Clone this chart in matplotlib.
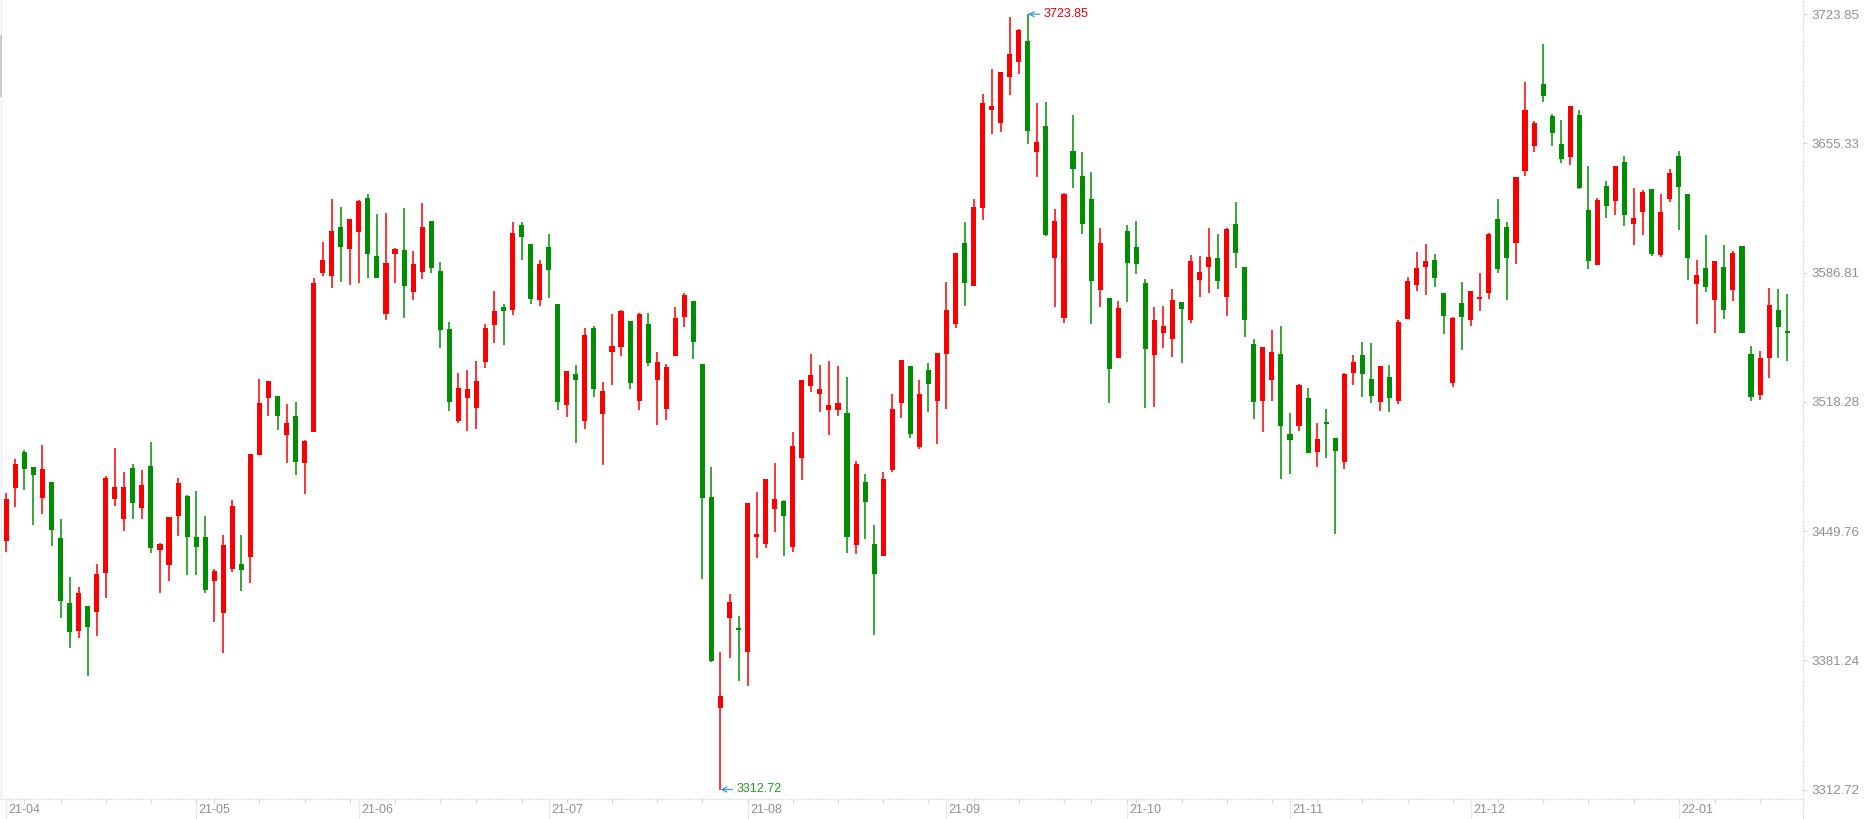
import matplotlib
matplotlib.use('Agg')
import matplotlib.pyplot as plt
import matplotlib.transforms as mtrans
from matplotlib.lines import Line2D
import numpy as np

plt.rcParams['font.family'] = ['Liberation Sans', 'DejaVu Sans']

# daily candles, 2021-04-01 .. 2022-01-20
opens = [3444.7, 3472.8, 3491.7, 3483.7, 3467.5, 3475.8, 3446.1, 3411.6, 3396.9, 3410.0,
         3407.0, 3427.7, 3467.0, 3456.3, 3483.2, 3462.2, 3484.3, 3439.9, 3431.9, 3457.9,
         3468.4, 3446.6, 3446.6, 3423.5, 3406.5, 3429.8, 3432.3, 3436.2, 3490.3, 3520.5,
         3521.4, 3500.9, 3510.8, 3486.0, 3502.5, 3586.8, 3585.2, 3611.0, 3599.5, 3608.5,
         3626.4, 3595.6, 3565.0, 3596.9, 3598.8, 3576.7, 3587.3, 3614.2, 3587.7, 3556.9,
         3508.3, 3520.5, 3515.2, 3539.6, 3559.2, 3568.6, 3567.1, 3612.1, 3602.0, 3572.5,
         3600.4, 3570.2, 3516.8, 3533.0, 3508.3, 3557.4, 3512.0, 3544.9, 3547.5, 3561.2,
         3518.9, 3559.6, 3530.0, 3514.7, 3542.8, 3563.5, 3571.8, 3538.3, 3467.8, 3356.1,
         3403.8, 3398.5, 3385.8, 3446.8, 3443.1, 3461.6, 3465.7, 3441.5, 3488.7, 3526.9,
         3522.6, 3514.1, 3514.1, 3512.4, 3442.5, 3475.8, 3442.9, 3436.7, 3482.1, 3517.9,
         3537.3, 3494.5, 3535.2, 3518.9, 3543.8, 3559.7, 3602.5, 3579.9, 3621.3, 3673.2,
         3666.3, 3690.7, 3698.7, 3709.6, 3650.9, 3664.6, 3594.7, 3562.9, 3651.3, 3638.0,
         3625.9, 3577.8, 3573.4, 3541.7, 3608.9, 3600.4, 3581.3, 3543.3, 3555.0, 3551.8,
         3571.2, 3561.9, 3583.1, 3590.0, 3594.6, 3574.1, 3612.6, 3589.8, 3549.0, 3518.9,
         3530.0, 3543.7, 3501.2, 3505.6, 3520.3, 3491.9, 3507.1, 3499.1, 3486.6, 3533.8,
         3543.1, 3530.4, 3518.4, 3531.5, 3518.9, 3562.4, 3580.4, 3590.0, 3593.5, 3576.0,
         3528.5, 3570.7, 3561.9, 3573.0, 3576.2, 3615.2, 3611.0, 3602.7, 3640.9, 3654.1,
         3686.8, 3669.9, 3655.0, 3648.3, 3670.4, 3620.0, 3591.0, 3632.7, 3624.8, 3645.3,
         3612.6, 3619.0, 3630.9, 3596.0, 3625.6, 3648.9, 3628.4, 3580.7, 3589.0, 3572.4,
         3589.6, 3577.6, 3600.7, 3543.8, 3521.9, 3541.6, 3567.1, 3556.0]
highs = [3470.1, 3488.0, 3492.8, 3483.7, 3495.4, 3475.8, 3456.2, 3425.4, 3420.1, 3410.0,
         3432.3, 3478.9, 3493.8, 3481.1, 3485.3, 3482.1, 3497.0, 3443.4, 3457.2, 3477.9,
         3468.9, 3471.0, 3457.7, 3429.6, 3447.7, 3466.2, 3447.7, 3490.6, 3530.4, 3529.3,
         3521.4, 3517.1, 3518.2, 3497.9, 3583.9, 3603.0, 3625.9, 3621.6, 3615.2, 3625.3,
         3628.5, 3617.9, 3618.4, 3599.9, 3621.1, 3598.3, 3623.7, 3614.2, 3592.4, 3560.6,
         3533.7, 3535.2, 3539.9, 3559.6, 3577.1, 3570.2, 3613.6, 3613.6, 3602.0, 3593.5,
         3607.3, 3570.2, 3534.6, 3537.8, 3557.4, 3558.5, 3528.8, 3564.9, 3567.0, 3561.2,
         3565.4, 3565.4, 3544.7, 3538.3, 3568.6, 3576.0, 3571.8, 3538.3, 3483.7, 3385.8,
         3416.6, 3404.9, 3464.6, 3470.6, 3477.4, 3486.0, 3466.2, 3502.3, 3529.9, 3543.7,
         3537.8, 3539.9, 3537.3, 3531.5, 3486.9, 3480.0, 3453.0, 3481.1, 3522.4, 3540.5,
         3537.3, 3529.9, 3538.9, 3544.2, 3581.8, 3597.2, 3613.6, 3625.9, 3681.5, 3694.8,
         3693.2, 3722.4, 3716.0, 3723.85, 3676.8, 3677.3, 3620.6, 3629.0, 3670.4, 3650.8,
         3640.2, 3610.5, 3573.4, 3571.8, 3612.1, 3614.2, 3583.4, 3568.6, 3569.1, 3578.1,
         3571.2, 3596.2, 3595.6, 3610.5, 3607.3, 3610.5, 3624.3, 3589.8, 3551.6, 3547.4,
         3556.4, 3558.5, 3512.4, 3527.7, 3525.6, 3507.1, 3514.5, 3499.1, 3533.6, 3543.1,
         3550.0, 3549.5, 3537.3, 3537.8, 3561.7, 3584.5, 3597.7, 3602.0, 3596.7, 3576.0,
         3563.3, 3581.8, 3577.1, 3586.6, 3607.8, 3625.8, 3613.6, 3637.5, 3687.9, 3667.2,
         3708.0, 3670.9, 3667.7, 3675.2, 3673.0, 3643.3, 3626.4, 3635.4, 3643.2, 3648.4,
         3631.7, 3630.4, 3630.9, 3628.4, 3642.0, 3651.2, 3628.4, 3593.7, 3606.5, 3593.2,
         3601.2, 3598.2, 3600.7, 3547.7, 3545.5, 3578.5, 3577.9, 3575.4]
lows = [3438.8, 3462.7, 3471.7, 3453.2, 3459.0, 3442.0, 3403.8, 3387.9, 3393.2, 3373.1,
        3394.3, 3414.4, 3463.2, 3450.0, 3456.3, 3456.3, 3438.3, 3417.1, 3423.5, 3447.3,
        3426.6, 3426.6, 3416.7, 3401.7, 3384.9, 3428.2, 3418.2, 3422.4, 3490.3, 3510.9,
        3503.5, 3486.0, 3479.7, 3469.6, 3502.5, 3585.2, 3578.8, 3582.0, 3580.4, 3581.5,
        3584.1, 3584.1, 3561.9, 3581.5, 3562.9, 3572.5, 3583.6, 3586.8, 3547.0, 3513.6,
        3507.2, 3503.0, 3504.1, 3536.4, 3549.7, 3548.6, 3564.5, 3593.5, 3570.3, 3569.3,
        3573.5, 3514.1, 3510.4, 3496.6, 3504.1, 3521.0, 3485.0, 3527.4, 3542.8, 3525.3,
        3514.1, 3537.5, 3506.2, 3508.8, 3542.8, 3558.2, 3541.2, 3424.5, 3380.5, 3312.72,
        3382.6, 3370.4, 3367.8, 3435.6, 3441.0, 3449.4, 3436.7, 3438.8, 3477.0, 3523.7,
        3513.1, 3500.9, 3511.0, 3438.3, 3437.8, 3445.7, 3394.8, 3436.7, 3481.1, 3509.9,
        3499.3, 3493.5, 3513.1, 3496.1, 3514.7, 3557.6, 3569.3, 3579.9, 3614.9, 3660.5,
        3661.6, 3681.2, 3692.3, 3655.2, 3637.7, 3606.4, 3568.8, 3560.3, 3631.9, 3607.5,
        3559.7, 3568.8, 3517.8, 3541.7, 3571.4, 3586.3, 3515.2, 3515.7, 3547.0, 3542.2,
        3539.1, 3560.3, 3574.1, 3576.2, 3578.3, 3564.0, 3589.4, 3552.8, 3509.4, 3502.5,
        3518.9, 3477.5, 3480.2, 3503.0, 3491.3, 3483.9, 3488.7, 3448.4, 3482.8, 3527.4,
        3521.0, 3517.8, 3513.6, 3513.1, 3517.3, 3562.4, 3577.2, 3575.1, 3579.4, 3554.4,
        3526.3, 3545.9, 3558.7, 3566.6, 3573.0, 3586.8, 3572.5, 3591.6, 3638.2, 3650.9,
        3677.5, 3654.1, 3645.1, 3644.1, 3631.3, 3588.9, 3591.0, 3615.9, 3617.3, 3611.5,
        3601.5, 3606.8, 3595.7, 3595.1, 3624.3, 3609.6, 3582.9, 3559.6, 3576.5, 3554.6,
        3562.4, 3571.8, 3554.6, 3518.5, 3519.1, 3530.8, 3541.6, 3539.9]
closes = [3466.8, 3485.2, 3482.8, 3479.7, 3482.7, 3450.5, 3412.9, 3396.4, 3416.9, 3399.1,
          3427.0, 3477.9, 3473.1, 3473.1, 3464.8, 3474.2, 3441.0, 3442.9, 3457.2, 3475.2,
          3446.8, 3441.5, 3418.7, 3428.6, 3442.4, 3463.0, 3429.3, 3490.6, 3517.7, 3529.3,
          3510.9, 3507.1, 3486.6, 3497.5, 3581.3, 3593.5, 3608.9, 3600.6, 3615.2, 3624.8,
          3596.9, 3584.1, 3591.9, 3599.3, 3579.9, 3591.4, 3611.0, 3589.4, 3556.5, 3518.4,
          3525.6, 3525.1, 3529.3, 3557.4, 3566.5, 3566.6, 3607.8, 3605.9, 3573.0, 3591.4,
          3588.4, 3518.4, 3534.6, 3530.0, 3553.7, 3525.3, 3524.0, 3547.9, 3566.5, 3528.5,
          3564.9, 3539.1, 3539.4, 3536.8, 3562.7, 3574.9, 3550.2, 3467.5, 3381.0, 3362.3,
          3412.1, 3397.5, 3464.6, 3448.2, 3477.4, 3466.8, 3457.9, 3495.0, 3529.9, 3532.5,
          3525.1, 3516.6, 3517.7, 3446.8, 3485.3, 3465.4, 3427.2, 3477.4, 3514.5, 3540.5,
          3501.4, 3522.4, 3527.9, 3544.2, 3567.0, 3597.2, 3581.5, 3621.6, 3676.8, 3675.2,
          3693.2, 3702.7, 3715.5, 3662.1, 3656.1, 3607.0, 3614.2, 3628.5, 3641.9, 3612.8,
          3582.5, 3602.5, 3535.9, 3568.0, 3592.1, 3591.6, 3546.5, 3561.7, 3558.5, 3572.3,
          3567.7, 3593.0, 3587.1, 3595.1, 3582.5, 3610.0, 3597.4, 3561.9, 3518.4, 3547.4,
          3544.7, 3505.6, 3498.2, 3527.2, 3491.3, 3498.6, 3506.7, 3492.4, 3533.0, 3539.4,
          3533.2, 3521.6, 3537.3, 3520.5, 3560.6, 3582.4, 3589.3, 3593.0, 3584.1, 3564.0,
          3562.9, 3563.5, 3577.1, 3574.0, 3607.3, 3588.9, 3594.7, 3637.5, 3673.0, 3666.1,
          3680.6, 3661.0, 3647.2, 3675.2, 3631.9, 3593.1, 3625.3, 3622.3, 3643.2, 3617.3,
          3615.6, 3629.8, 3596.5, 3618.7, 3639.5, 3632.0, 3594.6, 3585.7, 3579.3, 3593.2,
          3566.8, 3597.1, 3554.6, 3520.8, 3541.6, 3569.9, 3557.9, 3554.9]

# x axis: candle index of each month label, first trading day of each week
month_labels = ['21-04', '21-05', '21-06', '21-07', '21-08', '21-09',
                '21-10', '21-11', '21-12', '22-01']
month_starts = [0, 21, 39, 60, 82, 104, 124, 142, 162, 185]
week_starts = [2, 6, 11, 16, 21, 23, 28, 33, 38, 43, 48, 52, 57, 62, 67, 72, 77,
               82, 87, 92, 97, 102, 107, 112, 117, 120, 124, 125, 130, 135, 140,
               145, 150, 155, 160, 165, 170, 175, 180, 185, 189, 194]

y_ticks = [3312.72, 3381.24, 3449.76, 3518.28, 3586.81, 3655.33, 3723.85]

UP = '#fa0000'
DOWN = '#008f00'
GRID = '#d4d4d4'
TXT = '#8f8f8f'

W, H = 1876, 819
fig = plt.figure(figsize=(W / 100, H / 100), dpi=100)
ax_right = 1803
ax_bottom = 799
ax = fig.add_axes([0, 1 - ax_bottom / H, ax_right / W, ax_bottom / H])

step = 9.04
x0 = 6.3
ax.set_xlim(-x0 / step, (ax_right - x0) / step)
px = 411.13 / (789.5 - 14.2)
ax.set_ylim(3723.85 - (ax_bottom - 14.2) * px, 3723.85 + 14.2 * px)

o = np.array(opens)
h = np.array(highs)
l = np.array(lows)
c = np.array(closes)
xs = np.arange(len(o))
cols = [UP if cc >= oo else DOWN for oo, cc in zip(o, c)]

ax.vlines(xs, l, h, colors=cols, linewidth=1.1)
body_lo = np.minimum(o, c)
body_h = np.maximum(np.abs(c - o), 1.0)
ax.bar(xs, body_h, bottom=body_lo, width=0.56, color=cols, linewidth=0)

# axes styling
for s in ax.spines.values():
    s.set_visible(False)
ax.set_facecolor('white')

ax.yaxis.tick_right()
ax.set_yticks(y_ticks)
ax.set_yticklabels(['%.2f' % v for v in y_ticks])
ax.tick_params(axis='y', length=3, width=0.8, color=GRID, labelcolor=TXT,
               labelsize=9.5, pad=3)

ax.set_xticks([])
ax.set_xticks(week_starts, minor=True)
ax.tick_params(axis='x', which='minor', length=3, width=0.8, color=GRID,
               direction='out')

# bottom and right border lines (dotted)
fig.add_artist(Line2D([0, ax_right / W], [1 - ax_bottom / H] * 2,
                      transform=fig.transFigure, color=GRID, lw=0.9, ls=(0, (1, 1))))
fig.add_artist(Line2D([ax_right / W] * 2, [0, 1], transform=fig.transFigure,
                      color=GRID, lw=0.9, ls=(0, (1, 1))))
fig.add_artist(Line2D([1 / W] * 2, [1 - ax_bottom / H, 1], transform=fig.transFigure,
                      color='#ececec', lw=1))
fig.add_artist(Line2D([0.6 / W] * 2, [1 - 96 / H, 1 - 36 / H], transform=fig.transFigure,
                      color='#c4c4c4', lw=1.2))

# month markers and labels
btrans = mtrans.blended_transform_factory(ax.transData, fig.transFigure)
for idx, lab in zip(month_starts, month_labels):
    fig.add_artist(Line2D([idx, idx], [0, 1 - ax_bottom / H], transform=btrans,
                          color=GRID, lw=0.9, ls=(0, (1, 1))))
    ax.text(idx + 0.25, 1 - 810 / H, lab, transform=btrans, ha='left', va='center',
            fontsize=9, color=TXT)

# extreme annotations
imax = int(np.argmax(h))
imin = int(np.argmin(l))
ax.annotate('%.2f' % h[imax], xy=(imax, h[imax]), xytext=(16, 0),
            textcoords='offset pixels', ha='left', va='center', fontsize=9,
            color='#e00000',
            arrowprops=dict(arrowstyle='->', color='#3a9ad0', lw=0.9,
                            shrinkA=1, shrinkB=0))
ax.annotate('%.2f' % l[imin], xy=(imin, l[imin]), xytext=(16, 0),
            textcoords='offset pixels', ha='left', va='center', fontsize=9,
            color='#1e9a1e',
            arrowprops=dict(arrowstyle='->', color='#3a9ad0', lw=0.9,
                            shrinkA=1, shrinkB=0))

fig.savefig('out.png', dpi=100, facecolor='white')
